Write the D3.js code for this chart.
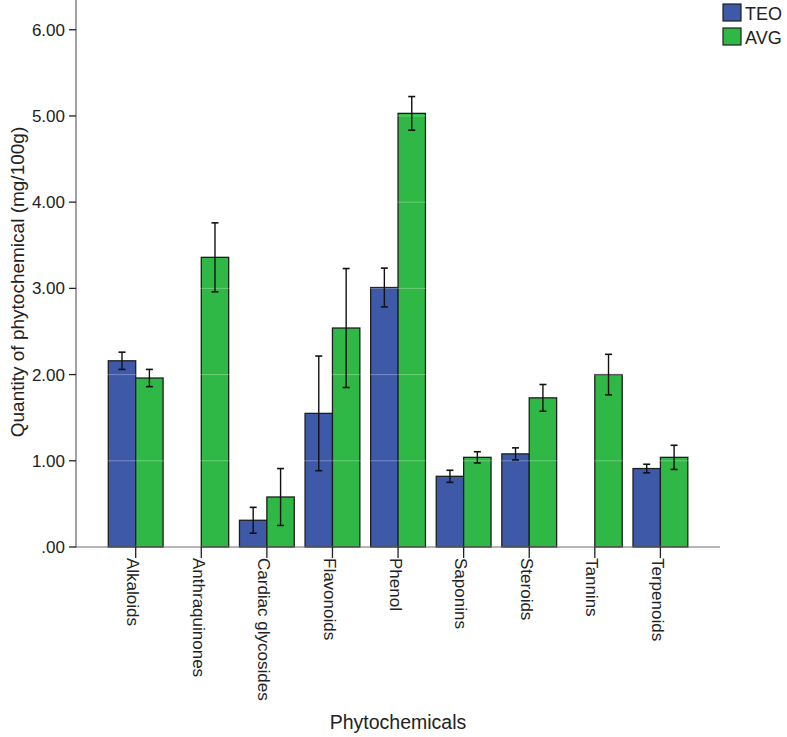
<!DOCTYPE html>
<html><head><meta charset="utf-8">
<script src="https://cdn.jsdelivr.net/npm/d3@7"></script>
<style>body{margin:0;background:#fff;}svg{display:block;font-family:"Liberation Sans",Arial,sans-serif;}</style>
</head><body>
<svg id="c" width="787" height="737"></svg>
<script>
const categories = ["Alkaloids","Anthraquinones","Cardiac glycosides","Flavonoids","Phenol","Saponins","Steroids","Tannins","Terpenoids"];
const seriesNames = ["TEO","AVG"];
const teoValues = [2.16, 0, 0.31, 1.55, 3.01, 0.82, 1.08, 0, 0.91];
const teoErrors = [0.10, 0, 0.15, 0.665, 0.225, 0.07, 0.07, 0, 0.05];
const avgValues = [1.96, 3.36, 0.58, 2.54, 5.03, 1.04, 1.73, 2.00, 1.04];
const avgErrors = [0.10, 0.40, 0.33, 0.69, 0.195, 0.065, 0.155, 0.235, 0.14];
const yTicks = [0,1,2,3,4,5,6];
const yTickLabels = [".00","1.00","2.00","3.00","4.00","5.00","6.00"];
const colors = {TEO:"#3f59a9", AVG:"#2fb846"};

const svg = d3.select("#c");
const y = d3.scaleLinear().domain([0, 6.345]).range([547, 0]);
const x = d3.scaleBand().domain(categories).range([102.9, 693.2]).paddingInner(0.16).paddingOuter(0.08);
const cx = c => x(c) + x.bandwidth()/2;
const barW = 27.4;
const sx = d3.scaleBand().domain(seriesNames).range([-barW, barW]);

const data = [];
categories.forEach((c,i)=>{
  data.push({c, s:"TEO", v:teoValues[i], e:teoErrors[i]});
  data.push({c, s:"AVG", v:avgValues[i], e:avgErrors[i]});
});

const g = svg.append("g");
g.selectAll("rect.bar").data(data.filter(d=>d.v>0)).enter().append("rect")
  .attr("class","bar")
  .attr("x", d=>cx(d.c)+sx(d.s))
  .attr("width", sx.bandwidth())
  .attr("y", d=>y(d.v))
  .attr("height", d=>y(0)-y(d.v))
  .attr("fill", d=>colors[d.s])
  .attr("stroke","#1e1e1e").attr("stroke-width",1.3);

g.selectAll("line.grid").data(yTicks.slice(1)).enter().append("line")
  .attr("x1",77).attr("x2",719).attr("y1",d=>y(d)).attr("y2",d=>y(d))
  .attr("stroke","#ffffff").attr("stroke-opacity",0.3).attr("stroke-width",1);

const eb = g.selectAll("g.err").data(data.filter(d=>d.e>0)).enter().append("g")
  .attr("transform", d=>`translate(${cx(d.c)+sx(d.s)+sx.bandwidth()/2},0)`);
eb.append("line").attr("x1",0).attr("x2",0).attr("y1",d=>y(d.v+d.e)).attr("y2",d=>y(d.v-d.e))
  .attr("stroke","#111").attr("stroke-width",1.4);
eb.append("line").attr("x1",-3.5).attr("x2",3.5).attr("y1",d=>y(d.v+d.e)).attr("y2",d=>y(d.v+d.e))
  .attr("stroke","#111").attr("stroke-width",1.6);
eb.append("line").attr("x1",-3.5).attr("x2",3.5).attr("y1",d=>y(d.v-d.e)).attr("y2",d=>y(d.v-d.e))
  .attr("stroke","#111").attr("stroke-width",1.6);

svg.append("line").attr("x1",76).attr("x2",76).attr("y1",0).attr("y2",547.5).attr("stroke","#8a8a8a").attr("stroke-width",1.6);
svg.append("line").attr("x1",76).attr("x2",720).attr("y1",547).attr("y2",547).attr("stroke","#6e6e6e").attr("stroke-width",1.2);

const yt = svg.append("g").selectAll("g").data(yTicks).enter().append("g").attr("transform",d=>`translate(0,${y(d)})`);
yt.append("line").attr("x1",69).attr("x2",76).attr("stroke","#222").attr("stroke-width",1.3);
yt.append("text").attr("x",65).attr("dy","0.36em").attr("text-anchor","end")
  .attr("font-size",17).attr("fill","#222").text((d,i)=>yTickLabels[i]);

const xt = svg.append("g").selectAll("g").data(categories).enter().append("g").attr("transform",d=>`translate(${cx(d)},0)`);
xt.append("line").attr("x1",0).attr("x2",0).attr("y1",547).attr("y2",558).attr("stroke","#222").attr("stroke-width",1.3);
xt.append("text").attr("transform","translate(-8.5,558) rotate(90)").attr("text-anchor","start")
  .attr("font-size",17).attr("fill","#222").text(d=>d);

svg.append("text").attr("transform","translate(24,282) rotate(-90)").attr("text-anchor","middle")
  .attr("font-size",19).attr("fill","#222").text("Quantity of phytochemical (mg/100g)");
svg.append("text").attr("x",398).attr("y",729).attr("text-anchor","middle")
  .attr("font-size",19.5).attr("fill","#222").text("Phytochemicals");

const lg = svg.append("g").selectAll("g").data(seriesNames).enter().append("g")
  .attr("transform",(d,i)=>`translate(723,${4+i*24})`);
lg.append("rect").attr("width",18).attr("height",17).attr("fill",d=>colors[d]).attr("stroke","#1e1e1e").attr("stroke-width",1.2);
lg.append("text").attr("x",22).attr("y",15.5).attr("font-size",18).attr("fill","#222").text(d=>d);
</script>
</body></html>
